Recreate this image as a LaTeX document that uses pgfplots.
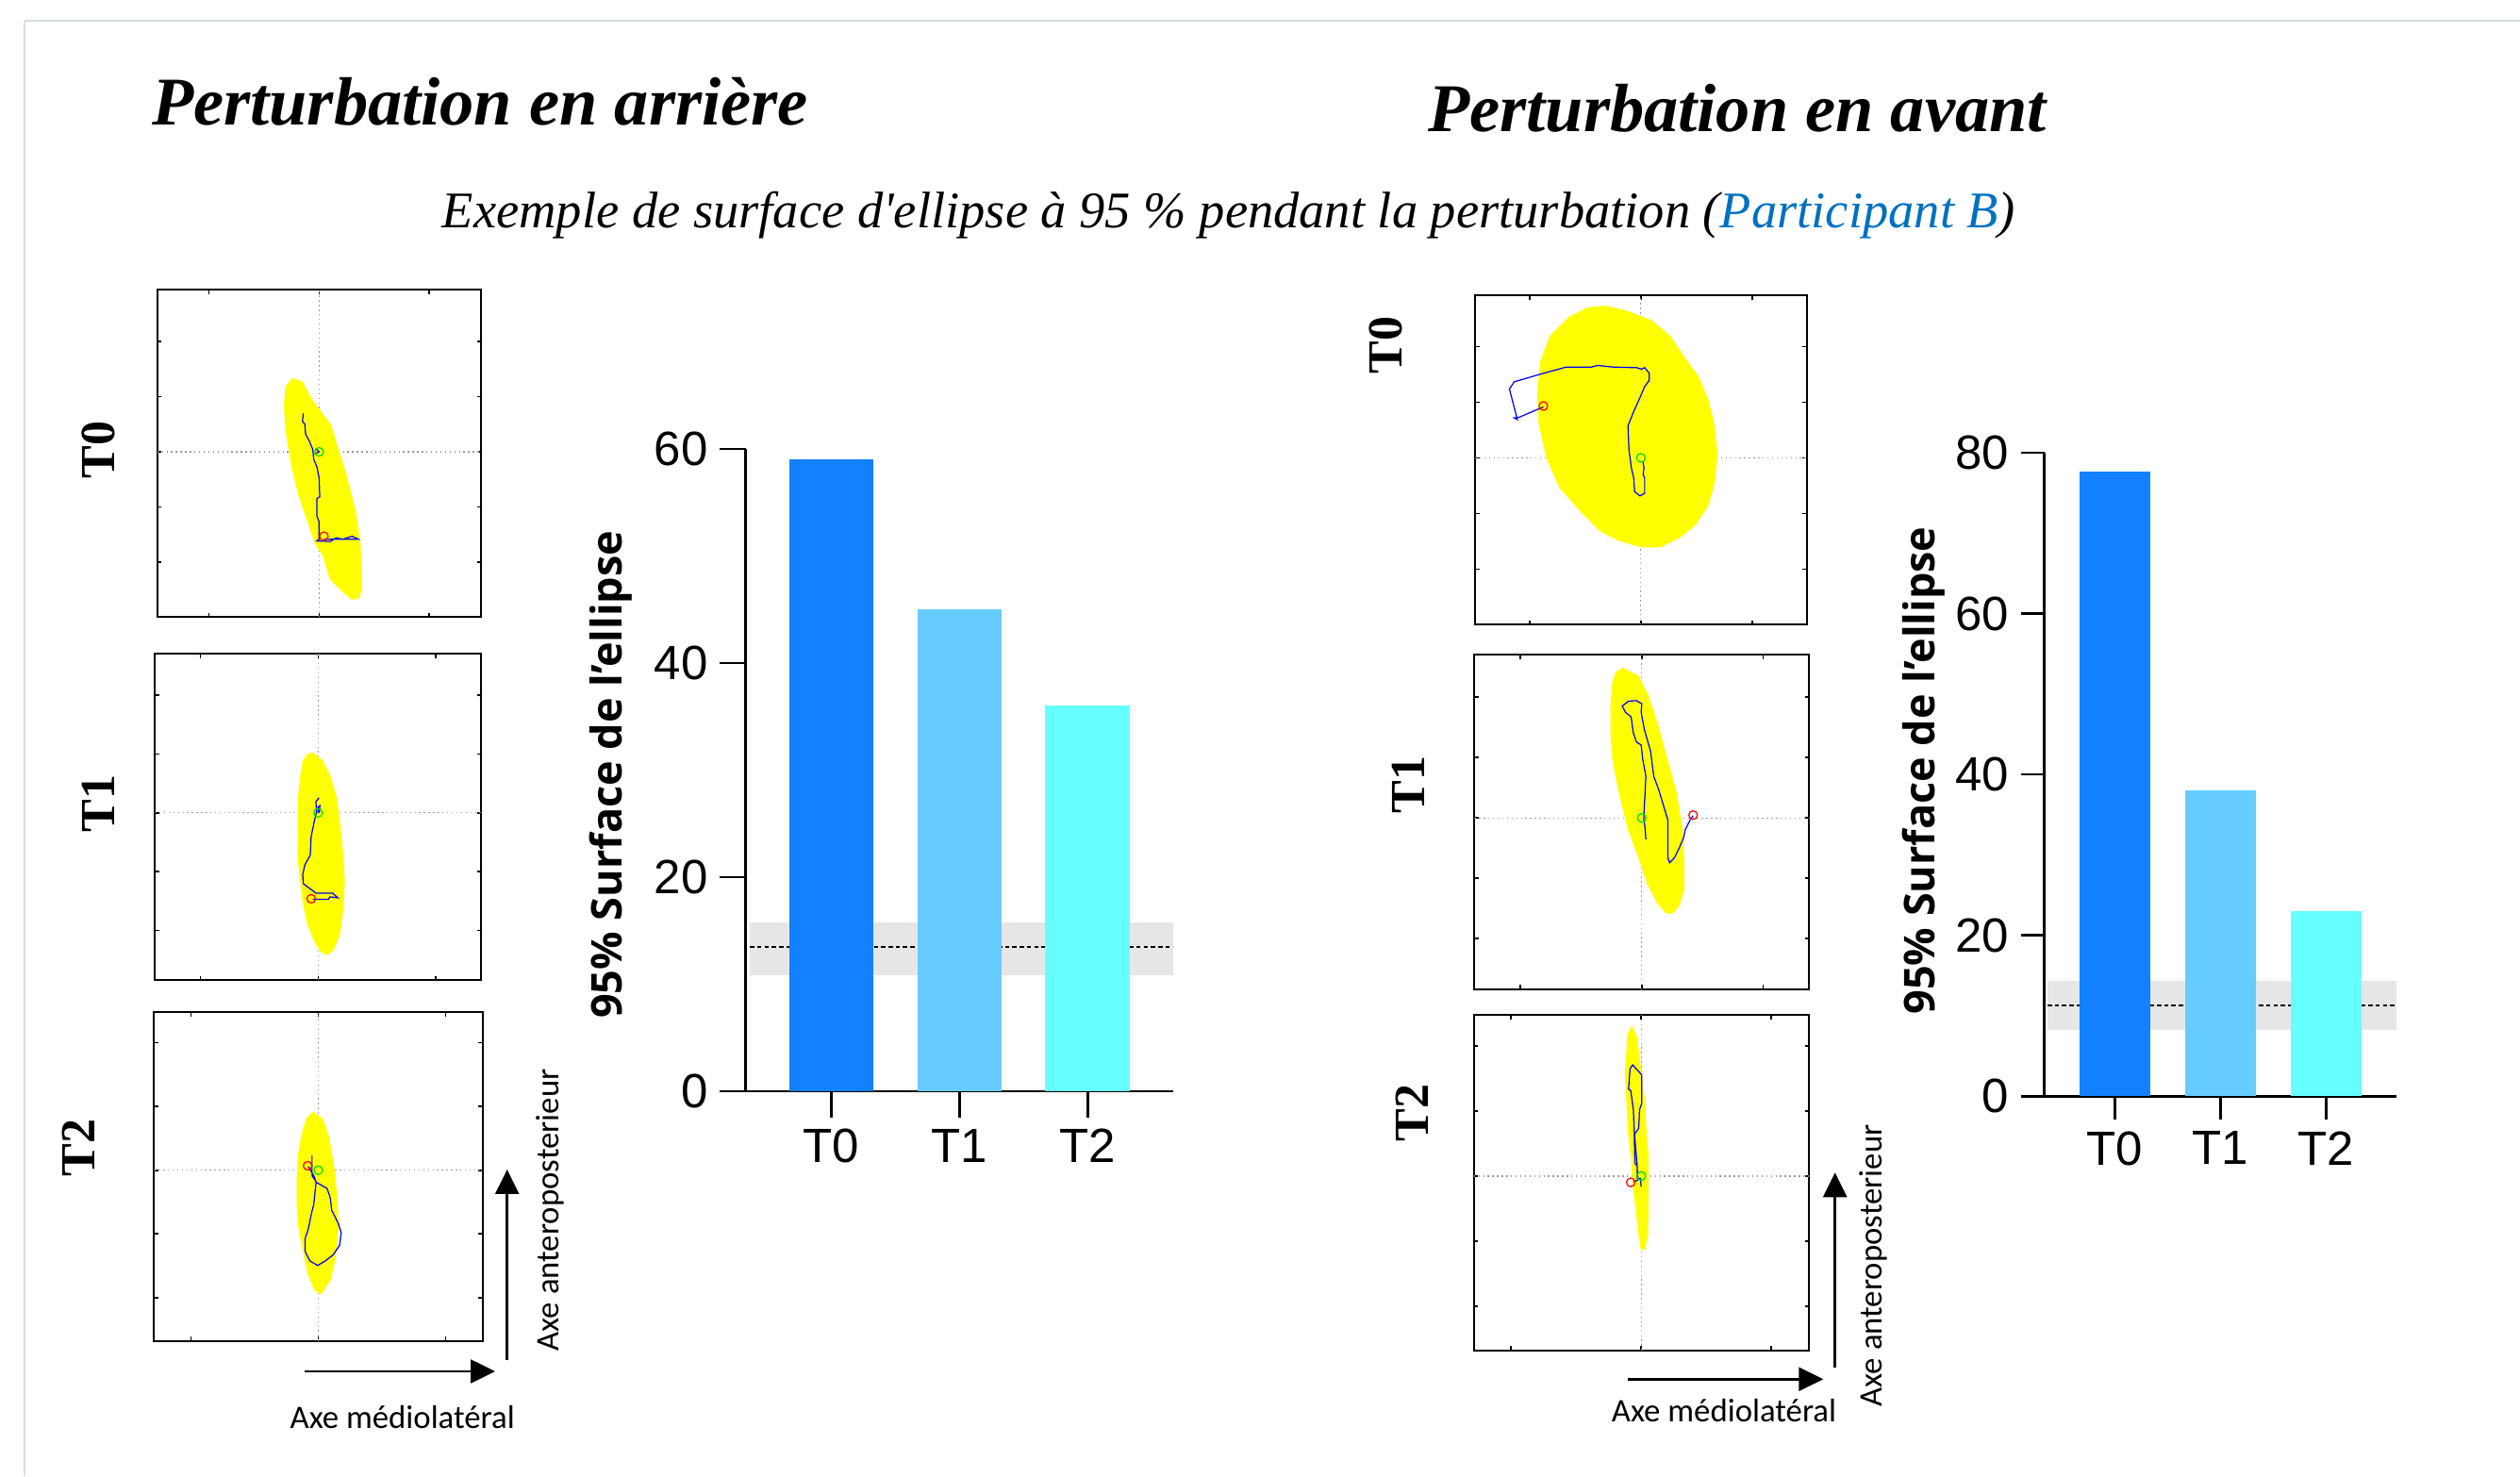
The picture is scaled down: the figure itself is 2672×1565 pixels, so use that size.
\documentclass[border=0pt]{standalone}
\usepackage{fontspec}
\usepackage{pgfplots}
\pgfplotsset{compat=1.18}
\usetikzlibrary{arrows.meta}
\setmainfont{Liberation Serif}
\newfontfamily\arialfont{Liberation Sans}
\newfontfamily\opensans{Open Sans}
\newfontfamily\carlito{Carlito}
\definecolor{cA}{HTML}{1280FF}
\definecolor{cB}{HTML}{66CCFF}
\definecolor{cC}{HTML}{66FFFF}
\definecolor{band}{HTML}{E6E6E6}
\definecolor{pblue}{HTML}{0070C0}
\definecolor{frame}{HTML}{D9DEE5}
\definecolor{ellip}{HTML}{FFFF00}
\newcommand{\straightquote}{\XeTeXglyph\XeTeXcharglyph"27\relax}
\pgfplotsset{
  panel/.style={scale only axis, anchor=north west,
    xtick={-10,0,10}, ytick={-15,-10,-5,0,5,10,15},
    xticklabels={}, yticklabels={},
    tick align=inside, major tick length=0.45mm,
    tick style={black, line width=0.45pt},
    axis line style={black, line width=0.55pt},
    extra x ticks={0}, extra y ticks={0},
    extra x tick labels={}, extra y tick labels={},
    extra tick style={major tick length=0pt, grid=major},
    major grid style={gray!80, densely dotted, line width=0.35pt}},
  traj/.style={color={rgb,255:red,0;green,0;blue,255}, line width=0.35pt, mark=none},
  ell/.style={fill=ellip, draw=ellip, line width=0.4pt},
  startc/.style={only marks, mark=o, mark size=1.3pt, color={rgb,255:red,0;green,220;blue,0}, mark options={line width=0.35pt}},
  endc/.style={only marks, mark=o, mark size=1.3pt, red, mark options={line width=0.35pt}},
  barax/.style={scale only axis, anchor=south west,
    axis x line*=bottom, axis y line*=left,
    axis line style={black, line width=0.8pt},
    tick style={black, line width=0.8pt},
    tick align=outside,
    xtick={0,1,2}, xticklabels={T0,T1,T2},
    ymin=0,
    /pgf/number format/assume math mode=true,
    tick label style={font=\arialfont\fontsize{14.5pt}{16pt}\selectfont},
    ylabel={95\% Surface de l’ellipse},
    ylabel style={font=\opensans\bfseries\fontsize{12.8pt}{14pt}\selectfont, anchor=center}},
}
\begin{document}
\begin{tikzpicture}[x=0.1mm, y=0.1mm]
\useasboundingbox (0,0) rectangle (2672,1565);
\coordinate (LT0) at (166.7,1565-307.3);
\coordinate (LT1) at (164,1565-693.3);
\coordinate (LT2) at (163.3,1565-1073.3);
\coordinate (RT0) at (1564,1565-313.3);
\coordinate (RT1) at (1563.3,1565-694.3);
\coordinate (RT2) at (1562.7,1565-1076);
\coordinate (BL) at (790.6,1565-1157);
\coordinate (BR) at (2167.7,1565-1162.1);
\draw[frame, line width=0.2mm] (26,1565-22) -- (2672,1565-22);
\draw[frame, line width=0.15mm] (26,1565-22) -- (26,0);

% titles
\node[anchor=base, font=\fontsize{20.6pt}{24pt}\selectfont\bfseries\itshape] at (509,1565-133) {Perturbation en arrière};
\node[anchor=base, font=\fontsize{20.6pt}{24pt}\selectfont\bfseries\itshape] at (1842,1565-140) {Perturbation en avant};
\node[anchor=base, font=\fontsize{15.5pt}{18pt}\selectfont\itshape] at (1303,1565-242) {Exemple de surface d\straightquote ellipse à 95 \% pendant la perturbation (\textcolor{pblue}{Participant B})};

% panel labels
\node[rotate=90, font=\fontsize{14.8pt}{17pt}\selectfont\bfseries] at (104,1565-477) {T0};
\node[rotate=90, font=\fontsize{14.8pt}{17pt}\selectfont\bfseries] at (104,1565-852) {T1};
\node[rotate=90, font=\fontsize{14.8pt}{17pt}\selectfont\bfseries] at (83,1565-1217) {T2};
\node[rotate=90, font=\fontsize{14.8pt}{17pt}\selectfont\bfseries] at (1469,1565-366) {T0};
\node[rotate=90, font=\fontsize{14.8pt}{17pt}\selectfont\bfseries] at (1493,1565-832) {T1};
\node[rotate=90, font=\fontsize{14.8pt}{17pt}\selectfont\bfseries] at (1497,1565-1180) {T2};

% ---------- left panels ----------
\begin{axis}[panel, at={(LT0)}, width=34.33mm, height=34.7mm,
  xmin=-14.7, xmax=14.7, ymin=-15, ymax=14.7]
\addplot[ell] coordinates {(-2.43,6.63)(-1.57,6.34)(-0.71,4.77)(0.14,3.63)(1.0,2.49)(1.71,0.2)(2.43,-2.09)(3.29,-5.51)(3.71,-8.37)(3.86,-12.37)(3.57,-13.23)(3.0,-13.37)(2.14,-12.66)(1.0,-11.51)(0.43,-9.51)(-0.29,-8.37)(-1.0,-6.37)(-1.86,-3.8)(-2.43,-1.51)(-2.71,0.2)(-3.0,1.91)(-3.14,4.2)(-3.0,5.91)} -- cycle;
\addplot[traj] coordinates {(-1.43,3.49)(-1.51,2.77)(-1.29,2.49)(-1.23,1.63)(-0.86,0.91)(-0.57,0.2)(-0.49,-0.66)(-0.2,-1.37)(0,-2.37)(0.06,-4.09)(-0.2,-4.23)(-0.2,-5.8)(0,-6.37)(0,-7.94)(-0.2,-8.09)(1.0,-8.14)(1.57,-7.8)(2.14,-7.94)(3.0,-7.66)(3.57,-7.94)(0.43,-7.94)};
\addplot[traj] coordinates {(-0.3,0.3)(0,0)(-0.4,-0.2)};
\addplot[startc] coordinates {(0,0)};
\addplot[endc] coordinates {(0.43,-7.66)};
\end{axis}

\begin{axis}[panel, at={(LT1)}, width=34.6mm, height=34.57mm,
  xmin=-13.9, xmax=13.85, ymin=-14.2, ymax=13.5]
\addplot[ell] coordinates {(-0.45,5.08)(0.35,4.41)(1.02,3.07)(1.55,1.2)(1.82,-0.94)(2.09,-3.61)(2.22,-5.75)(2.09,-8.16)(1.82,-10.29)(1.28,-11.63)(0.75,-12.03)(0.21,-11.76)(-0.32,-10.83)(-0.86,-9.49)(-1.26,-7.62)(-1.52,-5.48)(-1.71,-3.61)(-1.66,-1.47)(-1.66,1.2)(-1.52,2.81)(-1.26,4.41)(-0.86,4.95)} -- cycle;
\addplot[traj] coordinates {(0.08,1.28)(-0.19,0.94)(-0.13,0.13)(-0.37,-0.94)(-0.59,-2.01)(-0.67,-3.61)(-1.12,-4.41)(-1.31,-5.21)(-1.26,-6.02)(-0.72,-6.42)(-0.19,-6.82)(1.23,-6.82)(1.68,-7.22)(1.02,-7.14)(0.88,-7.35)(-0.45,-7.35)};
\addplot[traj] coordinates {(0.1,0)(0.15,0.6)(0.0,0.5)(0.0,0)};
\addplot[startc] coordinates {(0,0)};
\addplot[endc] coordinates {(-0.59,-7.3)};
\end{axis}

\begin{axis}[panel, at={(LT2)}, width=34.84mm, height=34.84mm,
  xmin=-12.9, xmax=12.9, ymin=-13.4, ymax=12.4]
\addplot[ell] coordinates {(-0.42,4.54)(0.32,4.0)(0.81,2.52)(1.19,0.3)(1.43,-1.93)(1.56,-4.4)(1.31,-6.86)(0.94,-8.59)(0.2,-9.7)(-0.3,-9.33)(-0.79,-8.1)(-1.16,-6.37)(-1.53,-4.4)(-1.65,-2.67)(-1.65,-0.69)(-1.53,1.28)(-1.28,2.77)(-0.91,4.0)} -- cycle;
\addplot[traj] coordinates {(-0.49,1.16)(-0.49,-0.44)(-0.3,-0.69)(-0.17,-0.94)(0.69,-1.43)(0.94,-2.17)(1.06,-3.16)(1.56,-4.15)(1.8,-4.89)(1.68,-5.88)(1.19,-6.62)(0.57,-7.11)(-0.05,-7.48)(-0.67,-7.11)(-1.04,-6.37)(-1.04,-5.38)(-0.79,-4.64)(-0.54,-3.41)(-0.35,-2.67)(-0.25,-1.68)(-0.17,-0.94)(-0.35,-0.44)(-0.79,0.3)};
\addplot[startc] coordinates {(0,0)};
\addplot[endc] coordinates {(-0.84,0.35)};
\end{axis}

% ---------- right panels ----------
\begin{axis}[panel, at={(RT0)}, width=35.17mm, height=34.9mm,
  xmin=-14.9, xmax=14.9, ymin=-15, ymax=14.6]
\addplot[ell] coordinates {(-3.19,13.62)(-1.36,13.19)(0.9,12.34)(2.6,10.93)(3.73,9.24)(5.14,7.26)(5.99,5.28)(6.55,3.02)(6.84,0.2)(6.55,-2.34)(5.99,-4.32)(4.86,-6.02)(3.45,-7.15)(1.75,-7.99)(0.06,-7.99)(-1.92,-7.43)(-3.62,-6.58)(-5.31,-4.89)(-7.29,-2.63)(-8.42,-0.08)(-9.12,3.02)(-9.27,5.85)(-8.98,8.67)(-8.14,10.93)(-6.44,12.63)(-4.75,13.47)} -- cycle;
\addplot[traj] coordinates {(0.2,-0.37)(0.28,-0.93)(0.2,-1.5)(0.34,-1.78)(0.34,-3.19)(-0.08,-3.42)(-0.56,-3.05)(-0.65,-1.78)(-0.85,-0.93)(-1.07,0.76)(-1.16,2.88)(-0.65,4.15)(-0.08,5.42)(0.34,6.41)(0.76,6.98)(0.76,7.6)(0.34,8.11)(0.06,7.97)(-0.37,8.11)(-2.49,8.16)(-3.9,8.31)(-4.46,8.16)(-6.72,8.16)(-8.98,7.54)(-11.38,6.84)(-11.81,6.19)(-11.1,3.45)(-11.38,3.59)(-10.96,3.64)(-8.76,4.58)};
\addplot[startc] coordinates {(0,0)};
\addplot[endc] coordinates {(-8.76,4.66)};
\end{axis}

\begin{axis}[panel, at={(RT1)}, width=35.5mm, height=35.47mm,
  xmin=-13.8, xmax=13.8, ymin=-14.2, ymax=13.5]
\addplot[ell] coordinates {(-1.61,12.39)(-0.31,11.74)(0.47,10.18)(1.25,7.84)(2.03,4.99)(2.81,2.13)(3.32,-0.99)(3.45,-3.58)(3.45,-5.92)(3.06,-7.22)(2.55,-7.87)(2.03,-7.87)(1.25,-6.96)(0.47,-5.4)(-0.31,-3.06)(-1.09,-0.99)(-1.61,1.09)(-2.13,3.43)(-2.39,4.99)(-2.52,6.81)(-2.52,9.4)(-2.39,11.22)(-2.13,12.0)} -- cycle;
\addplot[traj] coordinates {(0.34,-1.77)(0.26,-0.73)(0.16,-0.08)(0.26,1.87)(0.34,3.43)(0.08,4.86)(-0.05,6.03)(-0.44,6.29)(-0.7,7.06)(-0.88,8.36)(-1.35,8.75)(-1.61,9.27)(-1.09,9.66)(-0.44,9.71)(0,9.45)(-0.05,8.75)(0.21,7.32)(0.73,5.51)(0.99,3.43)(1.38,2.39)(2.16,-0.21)(2.16,-3.32)(2.29,-3.71)(2.68,-3.32)(3.06,-2.55)(3.45,-1.64)(3.58,-0.99)(3.97,-0.21)(4.23,0.18)};
\addplot[startc] coordinates {(0,0)};
\addplot[endc] coordinates {(4.23,0.23)};
\end{axis}

\begin{axis}[panel, at={(RT2)}, width=35.56mm, height=35.57mm,
  xmin=-12.85, xmax=12.9, ymin=-13.4, ymax=12.4]
\addplot[ell] coordinates {(-0.72,11.45)(-0.36,10.68)(-0.12,8.74)(0.24,5.85)(0.36,3.43)(0.53,1.5)(0.53,-1.4)(0.48,-4.54)(0.24,-5.63)(0,-5.51)(-0.12,-4.78)(-0.36,-2.61)(-0.6,-0.68)(-0.72,1.26)(-0.97,3.43)(-1.09,5.85)(-1.21,7.78)(-1.09,9.47)(-1.01,10.92)} -- cycle;
\addplot[traj] coordinates {(0,-0.8)(-0.05,-0.19)(-0.31,-0.19)(-0.31,0.89)(-0.53,3.43)(-0.6,5.12)(-0.8,6.57)(-0.97,6.69)(-0.85,8.26)(-0.65,8.55)(0.05,7.78)(0.05,5.6)(-0.12,5.12)(-0.19,3.67)(-0.53,3.19)(-0.48,1.01)(-0.31,0.77)(-0.24,-0.31)(-0.6,-0.43)};
\addplot[startc] coordinates {(0,0)};
\addplot[endc] coordinates {(-0.8,-0.48)};
\end{axis}

% ---------- bar charts ----------
\begin{axis}[barax, at={(BL)}, width=45.34mm, height=68.11mm,
  xmin=-0.669, xmax=2.667, ymax=60, ytick={0,20,40,60},
  major tick length=2.77mm,
  ylabel style={at={(axis description cs:-0.3145,0.493)}}]
\addplot[fill=band, draw=none] coordinates {(-0.636,10.87)(2.667,10.87)(2.667,15.73)(-0.636,15.73)} -- cycle;
\addplot[black, line width=0.5pt, dash pattern=on 1.3pt off 0.9pt] coordinates {(-0.636,13.48)(2.667,13.48)};
\addplot[ybar, bar width=8.97mm, bar shift=0pt, fill=cA, draw=none] coordinates {(0,59)};
\addplot[ybar, bar width=8.97mm, bar shift=0pt, fill=cB, draw=none] coordinates {(1,45)};
\addplot[ybar, bar width=8.97mm, bar shift=0pt, fill=cC, draw=none] coordinates {(2,36)};
\end{axis}

\begin{axis}[barax, at={(BR)}, width=37.31mm, height=68.21mm,
  xmin=-0.666, xmax=2.665, ymax=80, ytick={0,20,40,60,80},
  major tick length=2.5mm,
  ylabel style={at={(axis description cs:-0.342,0.506)}}]
\addplot[fill=band, draw=none] coordinates {(-0.637,8.2)(2.665,8.2)(2.665,14.3)(-0.637,14.3)} -- cycle;
\addplot[black, line width=0.5pt, dash pattern=on 1.3pt off 0.9pt] coordinates {(-0.637,11.3)(2.665,11.3)};
\addplot[ybar, bar width=7.46mm, bar shift=0pt, fill=cA, draw=none] coordinates {(0,77.6)};
\addplot[ybar, bar width=7.46mm, bar shift=0pt, fill=cB, draw=none] coordinates {(1,38)};
\addplot[ybar, bar width=7.46mm, bar shift=0pt, fill=cC, draw=none] coordinates {(2,23)};
\end{axis}

% ---------- axis arrows ----------
\draw[line width=0.75pt, -{Triangle[length=2.6mm, width=2.5mm]}] (323,1565-1454) -- (525,1565-1454);
\draw[line width=0.75pt, -{Triangle[length=2.6mm, width=2.5mm]}] (537.7,1565-1441.7) -- (537.7,1565-1240);
\draw[line width=0.75pt, -{Triangle[length=2.6mm, width=2.5mm]}] (1726,1565-1462.3) -- (1933.3,1565-1462.3);
\draw[line width=0.75pt, -{Triangle[length=2.6mm, width=2.5mm]}] (1945.7,1565-1450) -- (1945.7,1565-1243.3);
\node[font=\carlito\fontsize{9.9pt}{11pt}\selectfont] at (426.7,1565-1503) {Axe médiolatéral};
\node[font=\carlito\fontsize{9.9pt}{11pt}\selectfont, rotate=90] at (583,1565-1283) {Axe anteroposterieur};
\node[font=\carlito\fontsize{9.9pt}{11pt}\selectfont] at (1828,1565-1496) {Axe médiolatéral};
\node[font=\carlito\fontsize{9.9pt}{11pt}\selectfont, rotate=90] at (1986,1565-1342) {Axe anteroposterieur};
\end{tikzpicture}
\end{document}
